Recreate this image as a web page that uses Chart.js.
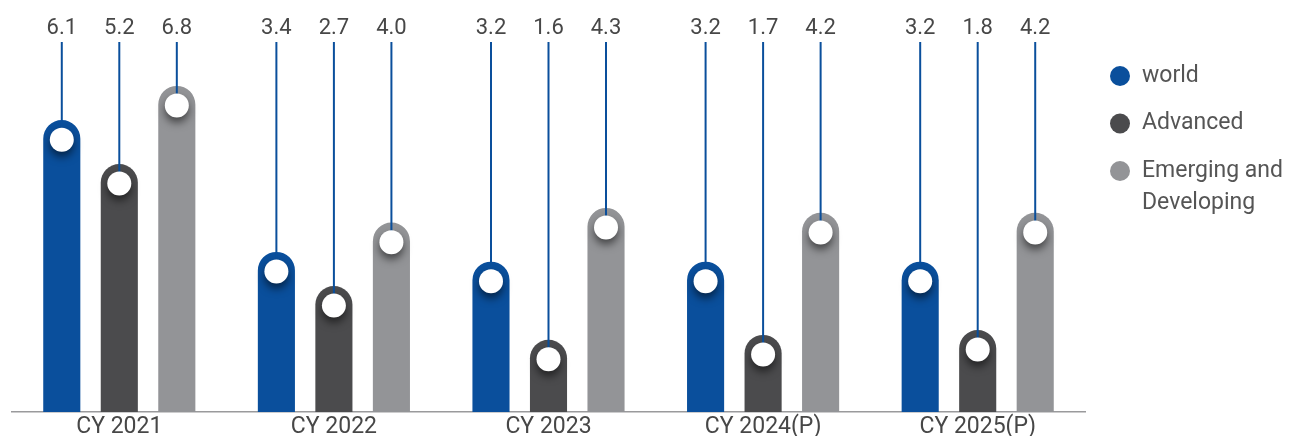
<!DOCTYPE html>
<html>
<head>
<meta charset="utf-8">
<script src="https://cdn.jsdelivr.net/npm/chart.js@4.4.1/dist/chart.umd.min.js"></script>
<style>
  html, body { margin: 0; padding: 0; background: #fff; overflow: hidden; }
  #wrap { width: 1298px; height: 436px; position: relative; }
</style>
</head>
<body>
<div id="wrap"><canvas id="gdpChart"></canvas></div>
<script>
// chart data
const years = ['CY 2021', 'CY 2022', 'CY 2023', 'CY 2024(P)', 'CY 2025(P)']
const seriesNames = ['world', 'Advanced', 'Emerging and Developing']
const legendLines = [['world'], ['Advanced'], ['Emerging and', 'Developing']]
const worldValues = [6.1, 3.4, 3.2, 3.2, 3.2]
const advancedValues = [5.2, 2.7, 1.6, 1.7, 1.8]
const emergingValues = [6.8, 4.0, 4.3, 4.2, 4.2]

const barColors = ['#0a4f9c', '#4b4b4d', '#939497']
const stemColor = '#0a4f9c'
const textColor = '#474747'

// draws the stem, white knob and value label on every bar, plus the legend
const lollipopPlugin = {
    id: 'lollipop',
    afterDatasetsDraw(chart) {
        const ctx = chart.ctx
        const top = chart.chartArea.top

        chart.data.datasets.forEach((ds, i) => {
            const meta = chart.getDatasetMeta(i)
            meta.data.forEach((bar, j) => {
                const knobY = bar.y + bar.width / 2 + 1

                // stem from the top of the plot down to the knob
                ctx.save()
                ctx.strokeStyle = stemColor
                ctx.lineWidth = 2
                ctx.beginPath()
                ctx.moveTo(bar.x, top)
                ctx.lineTo(bar.x, knobY)
                ctx.stroke()
                ctx.restore()

                // white knob with a soft shadow
                ctx.save()
                ctx.shadowColor = 'rgba(0,0,0,0.55)'
                ctx.shadowBlur = 8
                ctx.shadowOffsetY = 5
                ctx.fillStyle = '#ffffff'
                ctx.beginPath()
                ctx.arc(bar.x, knobY, 12, 0, Math.PI * 2)
                ctx.fill()
                ctx.restore()

                // value label above the stem
                ctx.save()
                ctx.fillStyle = textColor
                ctx.font = '22px Roboto'
                ctx.textAlign = 'center'
                ctx.textBaseline = 'alphabetic'
                ctx.fillText(ds.data[j].toFixed(1), bar.x, top - 8)
                ctx.restore()
            })
        })

        // legend on the right
        let y = 76
        const x = chart.chartArea.right + 35
        seriesNames.forEach((name, i) => {
            ctx.save()
            ctx.fillStyle = barColors[i]
            ctx.beginPath()
            ctx.arc(x, y, 10, 0, Math.PI * 2)
            ctx.fill()
            ctx.fillStyle = '#555555'
            ctx.font = '23px Roboto'
            ctx.textAlign = 'left'
            ctx.textBaseline = 'middle'
            legendLines[i].forEach((line, k) => {
                ctx.fillText(line, x + 22, y + k * 32)
            })
            ctx.restore()
            y += 47.5
        })
    }
}

const datasets = [worldValues, advancedValues, emergingValues].map((values, i) => {
    return {
        label: seriesNames[i],
        data: values,
        backgroundColor: barColors[i],
        borderRadius: 19,
        borderSkipped: 'start',
        categoryPercentage: 0.804,
        barPercentage: 0.645
    }
})

const ctx = document.getElementById('gdpChart').getContext('2d')
new Chart(ctx, {
    type: 'bar',
    data: {
        labels: years,
        datasets: datasets
    },
    options: {
        responsive: true,
        maintainAspectRatio: false,
        animation: false,
        layout: {
            // negative bottom lets the category labels run off the lower edge like the original
            padding: { top: 42, right: 213, left: 12, bottom: -7 }
        },
        plugins: {
            legend: { display: false },
            tooltip: { enabled: false }
        },
        scales: {
            x: {
                grid: { display: false, drawTicks: false },
                border: { display: true, color: '#9a9a9c', width: 1.5 },
                ticks: {
                    color: textColor,
                    padding: 4,
                    font: { family: 'Roboto', size: 23, lineHeight: 1 }
                }
            },
            y: {
                display: false,
                min: 0.12,
                max: 7.7
            }
        }
    },
    plugins: [lollipopPlugin]
})
</script>
</body>
</html>
